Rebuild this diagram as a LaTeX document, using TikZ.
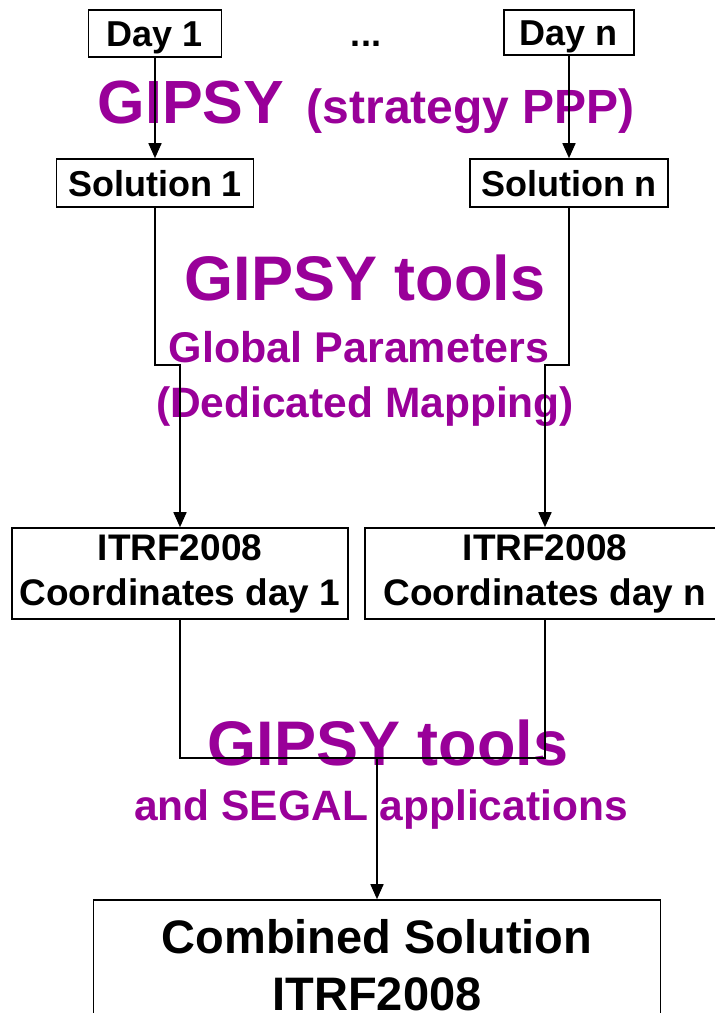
\documentclass[tikz,border=0pt]{standalone}
\usepackage{fontspec}
\setmainfont{Liberation Sans}
\usetikzlibrary{arrows.meta}
\definecolor{gipsy}{RGB}{153,0,153}

\begin{document}
\begin{tikzpicture}[x=1pt, y=-1pt,
  box/.style={draw, line width=1.6pt, inner sep=0pt, align=center,
    font=\bfseries\fontsize{37}{45}\selectfont},
  onerow/.style={box, text height=26pt, text depth=0pt,
    font=\bfseries\fontsize{36}{45}\selectfont},
  gtext/.style={text=gipsy, inner sep=0pt, anchor=base,
    font=\bfseries\fontsize{#1}{#1}\selectfont},
  link/.style={line width=1.6pt},
  arr/.style={link, -{Triangle[width=13pt,length=15pt]}}]

  \path[use as bounding box, clip] (0,0) rectangle (715,1013);

  % purple labels
  \node[gtext=61] (gipsyA) at (191,123) {GIPSY};
  \node[gtext=48] (ppp) at (471,123) {(strategy PPP)};
  \node[gtext=63] (toolsA) at (365,300) {GIPSY tools};
  \node[gtext=43] (glob) at (359,362) {Global Parameters};
  \node[gtext=42.5] (dedic) at (365,417) {(Dedicated Mapping)};
  \node[gtext=63] (toolsB) at (388,765) {GIPSY tools};
  \node[gtext=42.5] (segal) at (381,820) {and SEGAL applications};

  % Draw the boxes
  \node[onerow, minimum width=133pt, minimum height=47pt] (day1) at (155,33.5) {Day 1};
  \node[onerow, minimum width=130pt, minimum height=45pt] (dayn) at (569,32.5) {Day n};
  \node[font=\bfseries\fontsize{36}{36}\selectfont, inner sep=0pt, anchor=base] (dots) at (366,46) {...};
  \node[onerow, minimum width=197pt, minimum height=48pt] (sol1) at (155,183) {Solution 1};
  \node[onerow, minimum width=198pt, minimum height=48pt] (soln) at (569,183) {Solution n};
  \node[box, minimum width=336pt, minimum height=91pt] (itrf1) at (180,573.5) {ITRF2008\\Coordinates day 1};
  \node[box, minimum width=360pt, minimum height=91pt] (itrfn) at (545,573.5) {ITRF2008\\Coordinates day n};
  \node[box, minimum width=567pt, minimum height=131pt,
    font=\bfseries\fontsize{47}{57}\selectfont] (comb) at (377,965.5) {Combined Solution\\ITRF2008};

  % bends of the connectors
  \coordinate (j1) at (180,365);
  \coordinate (j2) at (545,365);
  \coordinate (jc) at (377,758);

  % Draw the connectors
  \draw[arr] (day1) -- (sol1);
  \draw[arr] (dayn) -- (soln);
  \draw[arr] (sol1.south) |- (j1) -- (itrf1.north);
  \draw[arr] (soln.south) |- (j2) -- (itrfn.north);
  \draw[link] (itrf1.south) |- (jc) -| (itrfn.south);
  \draw[arr] (jc) -- (comb.north);

\end{tikzpicture}
\end{document}
